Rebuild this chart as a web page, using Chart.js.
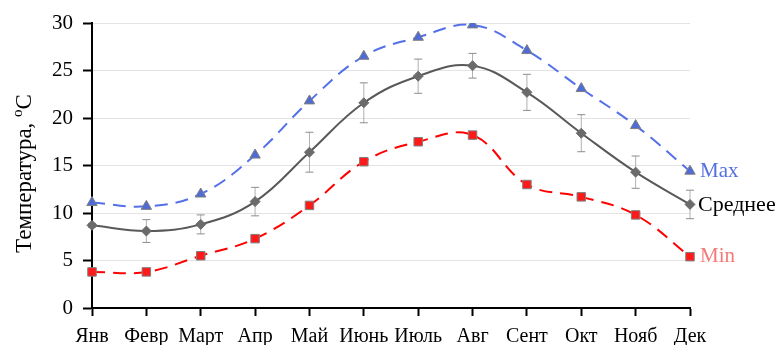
<!DOCTYPE html>
<html>
<head>
<meta charset="utf-8">
<script src="https://cdn.jsdelivr.net/npm/chart.js@4.4.0/dist/chart.umd.min.js"></script>
<style>
  html, body { margin: 0; padding: 0; background: #fff; }
  #wrap { width: 781px; height: 345px; }
</style>
</head>
<body>
<div id="wrap"><canvas id="chart" width="781" height="345"></canvas></div>
<script>
const months = ['Янв', 'Февр', 'Март', 'Апр', 'Май', 'Июнь', 'Июль', 'Авг', 'Сент', 'Окт', 'Нояб', 'Дек'];
const maxTemp = [11.1, 10.7, 12.0, 16.1, 21.8, 26.5, 28.5, 29.8, 27.1, 23.1, 19.2, 14.4];
const meanTemp = [8.7, 8.1, 8.8, 11.2, 16.4, 21.6, 24.4, 25.5, 22.7, 18.4, 14.3, 10.9];
const minTemp = [3.8, 3.8, 5.5, 7.3, 10.8, 15.4, 17.5, 18.2, 13.0, 11.7, 9.8, 5.4];
const meanErr = [0.2, 1.2, 1.0, 1.5, 2.1, 2.1, 1.8, 1.3, 1.9, 1.95, 1.7, 1.5];
const yTicks = [0, 5, 10, 15, 20, 25, 30];

const serif = "'Liberation Serif', 'Times New Roman', serif";

// error bars on the mean series
const errorBars = {
  id: 'errorBars',
  beforeDatasetsDraw(chart) {
    const ctx = chart.ctx;
    const x = chart.scales.x, y = chart.scales.y;
    ctx.save();
    ctx.lineWidth = 1;
    meanErr.forEach((e, i) => {
      const px = x.getPixelForValue(i);
      const top = y.getPixelForValue(meanTemp[i] + e);
      const bot = y.getPixelForValue(meanTemp[i] - e);
      ctx.strokeStyle = '#b0b0b0';
      ctx.beginPath();
      ctx.moveTo(px, top);
      ctx.lineTo(px, bot);
      ctx.stroke();
      ctx.strokeStyle = '#8c8c8c';
      ctx.beginPath();
      ctx.moveTo(px - 4, top); ctx.lineTo(px + 4, top);
      ctx.moveTo(px - 4, bot); ctx.lineTo(px + 4, bot);
      ctx.stroke();
    });
    ctx.restore();
  }
};

// series names next to the last point + y title with superscript
const extras = {
  id: 'extras',
  afterDraw(chart) {
    const ctx = chart.ctx;
    const x = chart.scales.x, y = chart.scales.y;
    const last = months.length - 1;
    const px = x.getPixelForValue(last) + 10;
    ctx.save();
    ctx.textBaseline = 'middle';
    ctx.textAlign = 'left';
    ctx.font = '21px ' + serif;
    ctx.fillStyle = '#5470e0';
    ctx.fillText('Max', px, y.getPixelForValue(maxTemp[last]));
    ctx.fillStyle = '#f47a7a';
    ctx.fillText('Min', px, y.getPixelForValue(minTemp[last]));
    ctx.font = '22px ' + serif;
    ctx.fillStyle = '#000';
    ctx.fillText('Среднее', px - 2, y.getPixelForValue(meanTemp[last]) + 1);

    // axis title
    const cy = (chart.chartArea.top + chart.chartArea.bottom) / 2 + 8;
    ctx.translate(31, cy);
    ctx.rotate(-Math.PI / 2);
    ctx.fillStyle = '#000';
    ctx.textBaseline = 'alphabetic';
    const t1 = 'Температура, ', t2 = 'o', t3 = 'C';
    ctx.font = '23px ' + serif;
    const w1 = ctx.measureText(t1).width;
    const w3 = ctx.measureText(t3).width;
    ctx.font = '15px ' + serif;
    const w2 = ctx.measureText(t2).width;
    let sx = -(w1 + w2 + w3) / 2;
    ctx.font = '23px ' + serif;
    ctx.fillText(t1, sx, 0);
    sx += w1;
    ctx.font = '15px ' + serif;
    ctx.fillText(t2, sx, -9);
    sx += w2;
    ctx.font = '23px ' + serif;
    ctx.fillText(t3, sx, 0);
    ctx.restore();
  }
};

new Chart(document.getElementById('chart'), {
  type: 'line',
  data: {
    labels: months,
    datasets: [
      {
        label: 'Max',
        data: maxTemp,
        borderColor: '#5470e8',
        borderWidth: 2,
        borderDash: [13, 8],
        tension: 0.4,
        pointStyle: 'triangle',
        pointRadius: 6,
        pointBackgroundColor: '#4f6bd6',
        pointBorderColor: '#7f7f7f',
        pointBorderWidth: 1
      },
      {
        label: 'Среднее',
        data: meanTemp,
        borderColor: '#595959',
        borderWidth: 2,
        tension: 0.4,
        pointStyle: 'rectRot',
        pointRadius: 5,
        pointBackgroundColor: '#6b6b6b',
        pointBorderColor: '#6b6b6b',
        pointBorderWidth: 1
      },
      {
        label: 'Min',
        data: minTemp,
        borderColor: '#ff0000',
        borderWidth: 2,
        borderDash: [13, 8],
        tension: 0.4,
        pointStyle: 'rect',
        pointRadius: 6,
        pointBackgroundColor: '#ff1a1a',
        pointBorderColor: '#7f7f7f',
        pointBorderWidth: 1
      }
    ]
  },
  options: {
    responsive: false,
    animation: false,
    layout: { padding: { top: 23, right: 91, left: 0, bottom: 0 } },
    plugins: {
      legend: { display: false },
      tooltip: { enabled: false }
    },
    scales: {
      x: {
        offset: false,
        afterFit: (s) => { s.height = 37; },
        grid: { drawOnChartArea: false, drawTicks: true, tickLength: 8, tickColor: '#000', tickWidth: 2 },
        border: { color: '#000', width: 2 },
        ticks: { color: '#000', font: { family: serif, size: 20 }, padding: 9, maxRotation: 0, autoSkip: false }
      },
      y: {
        min: 0,
        max: 30,
        afterFit: (s) => { s.width = 92; },
        afterBuildTicks: (s) => { s.ticks = yTicks.map(v => ({ value: v })); },
        grid: { color: '#e3e3e3', lineWidth: 1, drawTicks: true, tickLength: 9, tickColor: '#000', tickWidth: 2 },
        border: { color: '#000', width: 2 },
        ticks: { color: '#000', font: { family: serif, size: 21 }, padding: 10 }
      }
    }
  },
  plugins: [errorBars, extras]
});
</script>
</body>
</html>
